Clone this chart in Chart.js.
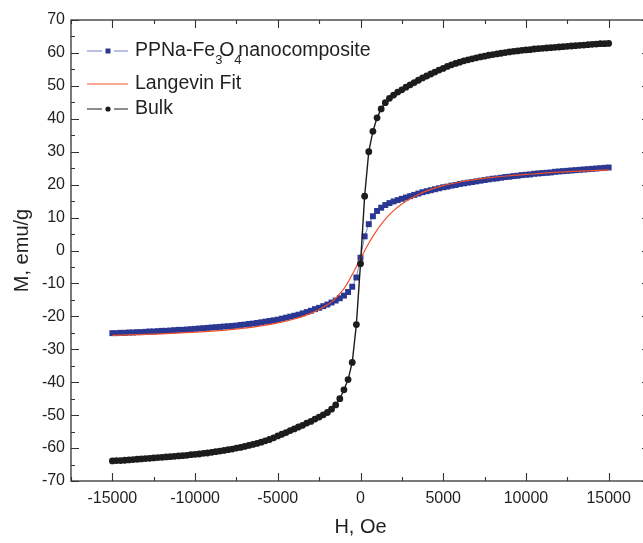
<!DOCTYPE html>
<html>
<head>
<meta charset="utf-8">
<script src="https://cdn.jsdelivr.net/npm/chart.js@4/dist/chart.umd.min.js"></script>
<style>
  html, body { margin: 0; padding: 0; background: #fff; overflow: hidden; }
  #wrap { width: 660px; height: 543px; }
</style>
</head>
<body>
<div id="wrap"><canvas id="mhChart" width="660" height="543"></canvas></div>
<script>
// applied field, Oe (shared by the measured curves)
const fieldOe = [
  -15000, -14750, -14500, -14250, -14000, -13750, -13500, -13250, -13000, -12750,
  -12500, -12250, -12000, -11750, -11500, -11250, -11000, -10750, -10500, -10250,
  -10000, -9750, -9500, -9250, -9000, -8750, -8500, -8250, -8000, -7750,
  -7500, -7250, -7000, -6750, -6500, -6250, -6000, -5750, -5500, -5250,
  -5000, -4750, -4500, -4250, -4000, -3750, -3500, -3250, -3000, -2750,
  -2500, -2250, -2000, -1750, -1500, -1250, -1000, -750, -500, -250,
  0,
  250, 500, 750, 1000, 1250, 1500, 1750, 2000, 2250, 2500,
  2750, 3000, 3250, 3500, 3750, 4000, 4250, 4500, 4750, 5000,
  5250, 5500, 5750, 6000, 6250, 6500, 6750, 7000, 7250, 7500,
  7750, 8000, 8250, 8500, 8750, 9000, 9250, 9500, 9750, 10000,
  10250, 10500, 10750, 11000, 11250, 11500, 11750, 12000, 12250, 12500,
  12750, 13000, 13250, 13500, 13750, 14000, 14250, 14500, 14750, 15000
];

// PPNa-Fe3O4 nanocomposite, emu/g
const compositeM = [
  -25.1, -25.1, -25.0, -25.0, -24.9, -24.9, -24.8, -24.8, -24.7, -24.6,
  -24.6, -24.5, -24.4, -24.4, -24.3, -24.2, -24.1, -24.1, -24.0, -23.9,
  -23.8, -23.7, -23.6, -23.5, -23.4, -23.3, -23.2, -23.1, -23.0, -22.9,
  -22.8, -22.6, -22.5, -22.3, -22.2, -22.0, -21.8, -21.6, -21.4, -21.2,
  -21.0, -20.7, -20.4, -20.1, -19.8, -19.5, -19.1, -18.7, -18.3, -17.8,
  -17.4, -16.9, -16.4, -15.8, -15.2, -14.5, -13.7, -12.6, -11.0, -8.2,
  -2.2,
  4.3, 8.0, 10.4, 12.0, 13.0, 13.8, 14.4, 14.9, 15.3, 15.7,
  16.1, 16.5, 16.9, 17.3, 17.7, 18.0, 18.3, 18.6, 18.9, 19.2,
  19.4, 19.7, 19.9, 20.2, 20.4, 20.6, 20.8, 21.0, 21.2, 21.4,
  21.6, 21.8, 21.9, 22.1, 22.3, 22.4, 22.6, 22.7, 22.9, 23.0,
  23.1, 23.3, 23.4, 23.5, 23.6, 23.7, 23.9, 24.0, 24.1, 24.2,
  24.3, 24.4, 24.5, 24.6, 24.7, 24.8, 24.9, 25.0, 25.1, 25.2
];

// bulk magnetite, emu/g
const bulkM = [
  -63.9, -63.8, -63.8, -63.7, -63.6, -63.5, -63.4, -63.3, -63.2, -63.1,
  -63.0, -62.9, -62.8, -62.7, -62.6, -62.5, -62.4, -62.3, -62.2, -62.0,
  -61.9, -61.8, -61.6, -61.5, -61.3, -61.1, -60.9, -60.7, -60.5, -60.3,
  -60.0, -59.8, -59.5, -59.2, -58.9, -58.6, -58.2, -57.8, -57.4, -56.9,
  -56.3, -55.8, -55.3, -54.7, -54.2, -53.6, -53.1, -52.4, -51.9, -51.2,
  -50.6, -49.9, -49.2, -48.2, -46.9, -45.0, -42.3, -39.2, -34.0, -22.5,
  -4.0,
  16.5, 30.0, 36.2, 40.3, 43.0, 44.9, 46.2, 47.2, 48.1, 48.8,
  49.6, 50.3, 51.0, 51.7, 52.4, 53.0, 53.6, 54.2, 54.8, 55.3,
  55.9, 56.4, 56.8, 57.2, 57.6, 57.9, 58.2, 58.5, 58.8, 59.0,
  59.3, 59.5, 59.7, 59.9, 60.1, 60.3, 60.5, 60.6, 60.8, 60.9,
  61.0, 61.2, 61.3, 61.4, 61.5, 61.6, 61.7, 61.8, 61.9, 62.0,
  62.1, 62.2, 62.3, 62.4, 62.5, 62.6, 62.7, 62.8, 62.8, 62.9
];

// Langevin fit curve
const fitH = [
  -15000, -12000, -10000, -9000, -8000, -7000, -6000, -5000, -4000, -3500,
  -3000, -2500, -2000, -1750, -1500, -1250, -1000, -750, -500, -250,
  0, 250, 500, 750, 1000, 1250, 1500, 1750, 2000, 2500,
  3000, 3500, 4000, 5000, 6000, 7000, 8000, 9000, 10000, 12000, 15000
];
const fitM = [
  -25.8, -25.3, -24.8, -24.5, -24.1, -23.6, -22.9, -22.0, -20.8, -20.0,
  -19.1, -17.9, -16.5, -15.6, -14.5, -13.1, -11.6, -9.6, -7.3, -4.9,
  -2.5, -0.1, 2.2, 4.3, 6.2, 7.9, 9.5, 10.9, 12.1, 14.1,
  15.7, 17.0, 18.1, 19.7, 20.8, 21.6, 22.2, 22.7, 23.1, 23.8, 24.5
];

const yTicks = [-70, -60, -50, -40, -30, -20, -10, 0, 10, 20, 30, 40, 50, 60, 70];
const xTicks = [-15000, -10000, -5000, 0, 5000, 10000, 15000];

const BLUE = '#2b3893';
const BLUE_LINE = '#7480c6';
const RED = '#f0502a';
const BLACK = '#1c1c1c';
const AXIS = '#333333';
const TEXT = '#231f20';
const FONT = "'Liberation Sans', Arial, sans-serif";

const pairs = (xs, ys) => xs.map((x, i) => ({ x: x, y: ys[i] }));

// box with inward ticks on every side, like the original plot
const framePlugin = {
  id: 'frame',
  afterDatasetsDraw(chart) {
    const { ctx, chartArea: a, scales: { x, y } } = chart;
    ctx.save();
    ctx.strokeStyle = AXIS;
    ctx.lineWidth = 1.3;
    ctx.strokeRect(a.left, a.top, a.right - a.left, a.bottom - a.top);
    ctx.lineWidth = 1.1;
    ctx.beginPath();
    for (let v = -17500; v <= 17500; v += 2500) {
      const px = Math.round(x.getPixelForValue(v)) + 0.5;
      const len = v % 5000 === 0 ? 8 : 4;
      ctx.moveTo(px, a.bottom); ctx.lineTo(px, a.bottom - len);
      ctx.moveTo(px, a.top); ctx.lineTo(px, a.top + len);
    }
    for (let v = -70; v <= 70; v += 5) {
      const py = Math.round(y.getPixelForValue(v)) + 0.5;
      const len = v % 10 === 0 ? 8 : 4;
      ctx.moveTo(a.left, py); ctx.lineTo(a.left + len, py);
      ctx.moveTo(a.right, py); ctx.lineTo(a.right - len, py);
    }
    ctx.stroke();
    ctx.restore();
  }
};

// legend drawn inside the plot, with subscripts in the first entry
const legendPlugin = {
  id: 'insideLegend',
  afterDraw(chart) {
    const ctx = chart.ctx;
    const x0 = 87, x1 = 128, xm = 108, tx = 135;
    const rows = [
      { y: 51, color: BLUE_LINE, mark: 'rect', markColor: BLUE },
      { y: 84, color: RED, mark: null },
      { y: 109, color: BLACK, mark: 'circle', markColor: BLACK }
    ];
    ctx.save();
    rows.forEach(r => {
      ctx.strokeStyle = r.color;
      ctx.lineWidth = 1.2;
      ctx.beginPath();
      if (r.mark) {
        ctx.moveTo(x0, r.y); ctx.lineTo(xm - 6, r.y);
        ctx.moveTo(xm + 6, r.y); ctx.lineTo(x1, r.y);
      } else {
        ctx.moveTo(x0, r.y); ctx.lineTo(x1, r.y);
      }
      ctx.stroke();
      ctx.fillStyle = r.markColor;
      if (r.mark === 'rect') ctx.fillRect(xm - 2.5, r.y - 2.5, 5, 5);
      if (r.mark === 'circle') { ctx.beginPath(); ctx.arc(xm, r.y, 2.6, 0, Math.PI * 2); ctx.fill(); }
    });
    ctx.fillStyle = TEXT;
    ctx.textBaseline = 'middle';
    const big = '19.5px ' + FONT, small = '13px ' + FONT;
    let cx = tx;
    // [text, subscript?]; subscripts tuck in under the neighbouring letters
    const parts = [['PPNa-Fe', 0], ['3', 1], ['O', 0], ['4', 1], ['nanocomposite', 0]];
    parts.forEach(([t, sub]) => {
      ctx.font = sub ? small : big;
      ctx.fillText(t, cx, rows[0].y + (sub ? 9 : 0));
      cx += ctx.measureText(t).width * (sub ? 0.55 : 1);
    });
    ctx.font = big;
    ctx.fillText('Langevin Fit', tx, rows[1].y);
    ctx.fillText('Bulk', tx, rows[2].y);
    ctx.restore();
  }
};

new Chart(document.getElementById('mhChart'), {
  type: 'line',
  data: {
    datasets: [
      {
        label: 'PPNa-Fe3O4 nanocomposite',
        data: pairs(fieldOe, compositeM),
        borderColor: BLUE_LINE,
        borderWidth: 1,
        backgroundColor: BLUE,
        pointStyle: 'rect',
        pointRadius: 4.2,
        pointBorderWidth: 0,
        order: 3
      },
      {
        label: 'Langevin Fit',
        data: pairs(fitH, fitM),
        borderColor: RED,
        borderWidth: 1.2,
        pointRadius: 0,
        cubicInterpolationMode: 'monotone',
        order: 2
      },
      {
        label: 'Bulk',
        data: pairs(fieldOe, bulkM),
        borderColor: BLACK,
        borderWidth: 1.4,
        backgroundColor: BLACK,
        pointStyle: 'circle',
        pointRadius: 3.4,
        pointBorderWidth: 0,
        order: 1
      }
    ]
  },
  options: {
    responsive: false,
    animation: false,
    layout: { padding: { top: 20, right: 10, left: 0, bottom: 0 } },
    plugins: { legend: { display: false }, tooltip: { enabled: false } },
    scales: {
      x: {
        type: 'linear',
        min: -17500,
        max: 17500,
        grid: { display: false, drawTicks: false },
        border: { display: false },
        ticks: {
          stepSize: 2500,
          padding: 8,
          color: TEXT,
          font: { family: FONT, size: 16 },
          maxRotation: 0,
          autoSkip: false,
          callback: v => (xTicks.includes(v) ? String(v) : '')
        },
        title: { display: true, text: 'H, Oe', color: TEXT, font: { family: FONT, size: 20 }, padding: { top: 0, bottom: 4 } },
        afterFit: s => { s.height = 62; }
      },
      y: {
        min: -70,
        max: 70,
        grid: { display: false, drawTicks: false },
        border: { display: false },
        ticks: {
          stepSize: 10,
          padding: 6,
          color: TEXT,
          font: { family: FONT, size: 16 },
          callback: v => (yTicks.includes(v) ? String(v) : '')
        },
        title: { display: true, text: 'M, emu/g', color: TEXT, font: { family: FONT, size: 20 }, padding: { top: 10, bottom: 0 } },
        afterFit: s => { s.width = 71; }
      }
    }
  },
  plugins: [framePlugin, legendPlugin]
});
</script>
</body>
</html>
